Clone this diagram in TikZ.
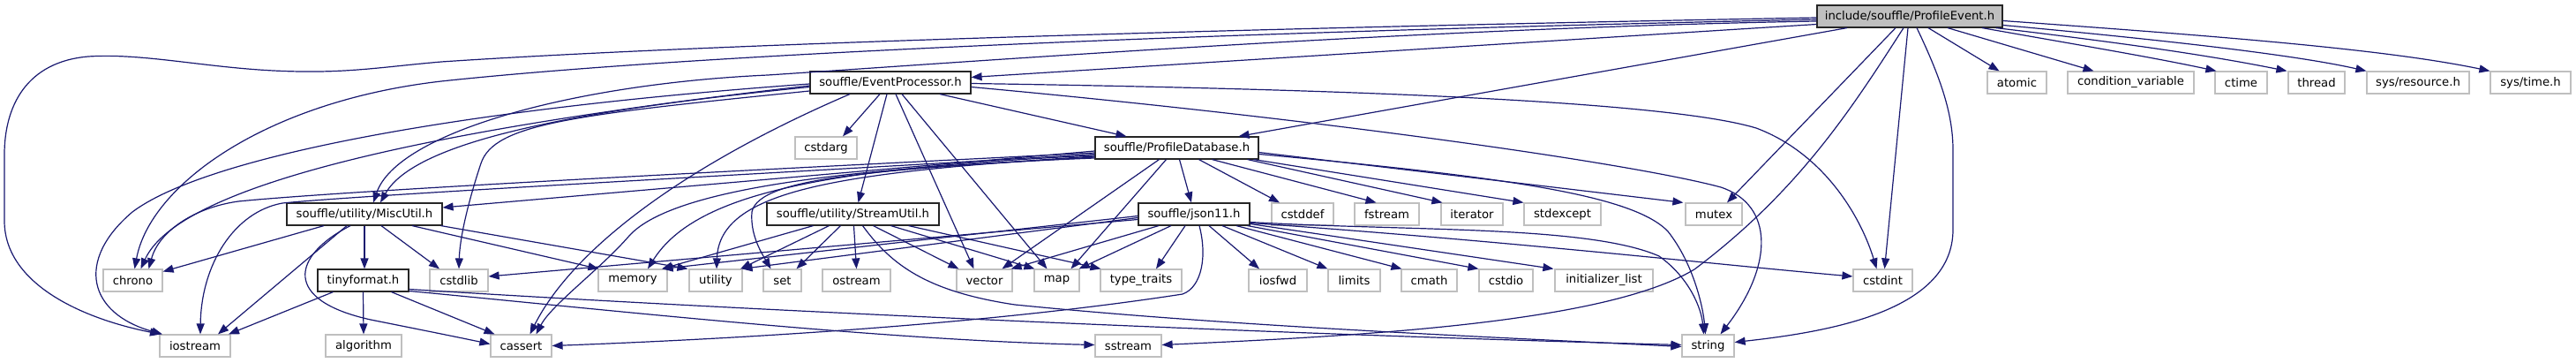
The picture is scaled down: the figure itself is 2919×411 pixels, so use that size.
\documentclass[tikz,border=0pt]{standalone}
\usepackage{fontspec}
\setmainfont{DejaVu Sans}
\usetikzlibrary{arrows.meta}
\definecolor{edgecol}{HTML}{191970}
\definecolor{boxgray}{HTML}{BFBFBF}
\begin{document}
\begin{tikzpicture}[x=1pt,y=-1pt,
  box/.style={draw, inner sep=0pt, minimum height=25pt, font=\fontsize{13.2}{15}\selectfont, anchor=center},
  sys/.style={box, draw=boxgray, line width=1.2pt, fill=white},
  proj/.style={box, draw=black!85, line width=1.15pt, fill=white},
  root/.style={box, draw=black!85, line width=1.15pt, fill=boxgray},
  e/.style={draw=edgecol, line width=1.2pt, -{Triangle[length=12pt,width=9pt]}},
]
\useasboundingbox (0,0) rectangle (2919,411);
% row 0
\node[root, minimum width=210pt] (PE) at (2164,18.5) {include/souffle/ProfileEvent.h};
% row 1
\node[proj, minimum width=182pt] (EP) at (1009,93.5) {souffle/EventProcessor.h};
\node[sys, minimum width=67pt] (atomic) at (2285.5,93.5) {atomic};
\node[sys, minimum width=143pt] (condvar) at (2414.5,93.5) {condition\_variable};
\node[sys, minimum width=59pt] (ctime) at (2539.5,93.5) {ctime};
\node[sys, minimum width=64pt] (thread) at (2625,93.5) {thread};
\node[sys, minimum width=116pt] (sysres) at (2740,93.5) {sys/resource.h};
\node[sys, minimum width=91pt] (systime) at (2867.5,93.5) {sys/time.h};
% row 2
\node[sys, minimum width=70pt] (cstdarg) at (936,167.5) {cstdarg};
\node[proj, minimum width=185pt] (PD) at (1333.5,167.5) {souffle/ProfileDatabase.h};
% row 3
\node[proj, minimum width=176pt] (MU) at (413,242.5) {souffle/utility/MiscUtil.h};
\node[proj, minimum width=195pt] (SU) at (966.5,242.5) {souffle/utility/StreamUtil.h};
\node[proj, minimum width=126pt] (json) at (1353,242.5) {souffle/json11.h};
\node[sys, minimum width=70pt] (cstddef) at (1476,242.5) {cstddef};
\node[sys, minimum width=73pt] (fstream) at (1571.5,242.5) {fstream};
\node[sys, minimum width=70pt] (iterator) at (1668,242.5) {iterator};
\node[sys, minimum width=87pt] (stdexcept) at (1770.5,242.5) {stdexcept};
\node[sys, minimum width=64pt] (mutex) at (1942,242.5) {mutex};
% row 4
\node[sys, minimum width=67pt] (chrono) at (150.5,317.5) {chrono};
\node[proj, minimum width=103pt] (tiny) at (411.5,317.5) {tinyformat.h};
\node[sys, minimum width=66pt] (cstdlib) at (520,317.5) {cstdlib};
\node[sys, minimum width=78pt] (memory) at (717,317.5) {memory};
\node[sys, minimum width=60pt] (utility) at (811,317.5) {utility};
\node[sys, minimum width=43pt] (set) at (886.5,317.5) {set};
\node[sys, minimum width=77pt] (ostream) at (970.5,317.5) {ostream};
\node[sys, minimum width=63pt] (vector) at (1115.5,317.5) {vector};
\node[sys, minimum width=51pt] (map) at (1197.5,317.5) {map};
\node[sys, minimum width=92pt] (typetraits) at (1293,317.5) {type\_traits};
\node[sys, minimum width=66pt] (iosfwd) at (1448,317.5) {iosfwd};
\node[sys, minimum width=59pt] (limits) at (1534.5,317.5) {limits};
\node[sys, minimum width=63pt] (cmath) at (1619.5,317.5) {cmath};
\node[sys, minimum width=61pt] (cstdio) at (1706.5,317.5) {cstdio};
\node[sys, minimum width=111pt] (initlist) at (1817.5,317.5) {initializer\_list};
\node[sys, minimum width=67pt] (cstdint) at (2133.5,317.5) {cstdint};
% row 5
\node[sys, minimum width=80pt] (iostream) at (221,391.5) {iostream};
\node[sys, minimum width=86pt] (algorithm) at (412,391.5) {algorithm};
\node[sys, minimum width=69pt] (cassert) at (590.5,391.5) {cassert};
\node[sys, minimum width=75pt] (sstream) at (1278.5,391.5) {sstream};
\node[sys, minimum width=59pt] (string) at (1935.5,391.5) {string};

% ---- ProfileEvent.h
\draw[e] ([yshift=-1.5pt]PE.west) .. controls (1400,32) and (800,50) .. (500,70) .. controls (430,76) and (390,84) .. (310,80) .. controls (230,76) and (160,60) .. (100,64) .. controls (30,70) and (5,120) .. (5,175) -- (5,250) .. controls (5,320) and (90,360) .. ([xshift=-39pt]iostream.north);
\draw[e] ([yshift=-3.5pt]PE.west) .. controls (1400,36) and (800,60) .. (500,92) .. controls (300,115) and (170,210) .. ([xshift=2pt]chrono.north);
\draw[e] ([yshift=-5.5pt]PE.west) .. controls (1600,32) and (1100,70) .. (870,85) .. controls (650,95) and (450,150) .. ([xshift=10pt]MU.north);
\draw[e] ([yshift=-9pt]PE.west) -- ([yshift=6pt]EP.east);
\draw[e] ([xshift=-71pt]PE.south) -- ([xshift=70pt]PD.north);
\draw[e] ([xshift=-16pt]PE.south) -- ([xshift=15pt]mutex.north);
\draw[e] ([xshift=-2pt]PE.south) -- ([xshift=2pt]cstdint.north);
\draw[e] ([xshift=8pt]PE.south) .. controls (2200,90) and (2213,130) .. (2213,170) -- (2213,260) .. controls (2213,350) and (2080,375) .. ([yshift=4pt]string.east);
\draw[e] ([xshift=-7pt]PE.south) .. controls (2100,120) and (2040,215) .. (1920,305) .. controls (1820,365) and (1550,380) .. ([yshift=1pt]sstream.east);
\draw[e] ([xshift=21pt]PE.south) -- ([xshift=-20pt]atomic.north);
\draw[e] ([xshift=43pt]PE.south) -- ([xshift=-42pt]condvar.north);
\draw[e] ([xshift=82pt]PE.south) .. controls (2350,50) and (2440,65) .. ([xshift=2pt]ctime.north west);
\draw[e] ([xshift=-8pt]PE.south east) .. controls (2400,48) and (2500,62) .. ([xshift=-1pt]thread.north west);
\draw[e] ([yshift=-10pt]PE.east) .. controls (2450,45) and (2600,62) .. (sysres.north west);
\draw[e] ([yshift=-5pt]PE.east) .. controls (2500,40) and (2700,55) .. (systime.north west);

% ---- EventProcessor.h
\draw[e] ([yshift=-5pt]EP.west) .. controls (650,125) and (470,160) .. ([xshift=18pt]MU.north);
\draw[e] ([yshift=-1.5pt]EP.west) .. controls (500,125) and (230,180) .. (150,240) .. controls (85,295) and (100,355) .. ([xshift=-37pt]iostream.north);
\draw[e] ([yshift=-3.5pt]EP.west) .. controls (450,150) and (200,215) .. ([xshift=9pt]chrono.north);
\draw[e] ([yshift=-9.5pt]EP.west) .. controls (650,130) and (560,140) .. (545,185) .. controls (530,230) and (521,270) .. (cstdlib.north);
\draw[e] ([xshift=-46pt]EP.south) .. controls (780,185) and (650,280) .. ([xshift=10pt]cassert.north);
\draw[e] ([xshift=-12pt]EP.south) -- ([xshift=19pt]cstdarg.north);
\draw[e] ([xshift=-4pt]EP.south) -- ([xshift=6pt]SU.north);
\draw[e] ([xshift=6pt]EP.south) -- ([xshift=-12pt]vector.north);
\draw[e] ([xshift=13pt]EP.south) -- ([xshift=-11pt]map.north);
\draw[e] ([xshift=56pt]EP.south) -- ([xshift=-57pt]PD.north);
\draw[e] ([yshift=-1pt]EP.east) .. controls (1600,102) and (1900,118) .. (1990,145) .. controls (2070,175) and (2110,250) .. ([xshift=-7pt]cstdint.north);
\draw[e] ([yshift=-5pt]EP.east) .. controls (1500,135) and (1850,185) .. (1950,212) .. controls (2010,232) and (2010,300) .. ([xshift=14pt]string.north);

% ---- ProfileDatabase.h
\draw[e] ([yshift=-3.5pt]PD.west) -- ([yshift=7.5pt]MU.east);
\draw[e] ([yshift=-5.5pt]PD.west) .. controls (900,190) and (400,215) .. (270,228) .. controls (220,235) and (180,262) .. ([xshift=18pt]chrono.north);
\draw[e] ([yshift=-7pt]PD.west) .. controls (900,195) and (420,220) .. (320,230) .. controls (265,240) and (228,300) .. ([xshift=6pt]iostream.north);
\draw[e] ([yshift=-8.5pt]PD.west) .. controls (950,190) and (790,215) .. ([xshift=17pt]memory.north);
\draw[e] ([yshift=-9.5pt]PD.west) .. controls (950,195) and (815,215) .. ([xshift=1pt]utility.north);
\draw[e] ([yshift=-10.5pt]PD.west) .. controls (1000,192) and (860,200) .. (852,240) .. controls (850,265) and (862,285) .. ([xshift=-13pt]set.north);
\draw[e] ([yshift=-11.5pt]PD.west) .. controls (950,190) and (760,215) .. (713,267) .. controls (680,305) and (625,345) .. ([xshift=17pt]cassert.north);
\draw[e] ([xshift=-20pt]PD.south) -- ([xshift=20pt]vector.north);
\draw[e] ([xshift=-12pt]PD.south) -- ([xshift=16pt]map.north);
\draw[e] ([xshift=3pt]PD.south) -- ([xshift=-3pt]json.north);
\draw[e] ([xshift=25pt]PD.south) -- ([xshift=-26pt]cstddef.north);
\draw[e] ([xshift=40pt]PD.south) -- ([xshift=-12pt]fstream.north);
\draw[e] ([xshift=-13pt]PD.south east) -- ([xshift=2pt]iterator.north west);
\draw[e] ([xshift=-6pt]PD.south east) -- (stdexcept.north west);
\draw[e] ([yshift=-5pt]PD.east) -- ([xshift=-2pt]mutex.north west);
\draw[e] ([yshift=-7pt]PD.east) .. controls (1700,200) and (1850,220) .. (1890,262) .. controls (1920,300) and (1930,350) .. ([xshift=-3pt]string.north);

% ---- MiscUtil.h
\draw[e] ([xshift=-46pt]MU.south) -- ([yshift=10pt]chrono.east);
\draw[e] ([xshift=-20pt]MU.south) -- ([xshift=26pt]iostream.north);
\draw[e] ([xshift=-16pt]MU.south) .. controls (330,290) and (320,340) .. (420,362) .. controls (470,372) and (520,382) .. ([yshift=2pt]cassert.west);
\draw[e] (MU.south) -- ([xshift=1.5pt]tiny.north);
\draw[e] ([xshift=19pt]MU.south) -- ([xshift=-22pt]cstdlib.north);
\draw[e] ([xshift=54pt]MU.south) -- ([xshift=1pt]memory.north west);
\draw[e] ([xshift=-2pt]MU.south east) -- ([xshift=-1pt]utility.north west);

% ---- tinyformat.h
\draw[e] ([xshift=-34pt]tiny.south) -- ([xshift=38pt]iostream.north);
\draw[e] (tiny.south) -- (algorithm.north);
\draw[e] ([xshift=32pt]tiny.south) -- ([xshift=-30pt]cassert.north);
\draw[e] ([yshift=-12pt]tiny.east) .. controls (700,352) and (1000,385) .. ([yshift=1pt]sstream.west);
\draw[e] ([yshift=-10pt]tiny.east) .. controls (900,355) and (1500,380) .. ([yshift=1pt]string.west);

% ---- StreamUtil.h
\draw[e] ([xshift=-45pt]SU.south) -- ([xshift=33pt]memory.north);
\draw[e] ([xshift=-27pt]SU.south) -- ([xshift=28pt]utility.north);
\draw[e] ([xshift=-14pt]SU.south) -- ([xshift=16pt]set.north);
\draw[e] ([xshift=1pt]SU.south) -- (ostream.north);
\draw[e] ([xshift=23pt]SU.south) -- ([xshift=3pt]vector.north west);
\draw[e] ([xshift=43pt]SU.south) -- ([xshift=1pt]map.north west);
\draw[e] ([xshift=63pt]SU.south) -- ([xshift=1pt]typetraits.north west);
\draw[e] ([xshift=11pt]SU.south) .. controls (1010,300) and (1050,330) .. (1150,345) .. controls (1400,370) and (1700,382) .. ([yshift=-1pt]string.west);

% ---- json11.h
\draw[e] ([yshift=-2pt]json.west) -- ([xshift=-6pt]memory.north east);
\draw[e] ([yshift=-4pt]json.west) -- ([xshift=-1pt]utility.north east);
\draw[e] ([yshift=-6pt]json.west) -- ([yshift=4.5pt]cstdlib.east);
\draw[e] ([xshift=-40pt]json.south) -- ([xshift=-2pt]vector.north east);
\draw[e] ([xshift=-26pt]json.south) -- ([xshift=-1pt]map.north east);
\draw[e] ([xshift=-10pt]json.south) -- ([xshift=17pt]typetraits.north);
\draw[e] ([xshift=6pt]json.south) .. controls (1368,290) and (1362,325) .. (1340,333) .. controls (1100,370) and (800,385) .. (cassert.east);
\draw[e] ([xshift=17pt]json.south) -- ([xshift=-21pt]iosfwd.north);
\draw[e] ([xshift=32pt]json.south) -- (limits.north west);
\draw[e] ([xshift=48pt]json.south) -- ([xshift=1pt]cmath.north west);
\draw[e] ([xshift=-3pt]json.south east) -- (cstdio.north west);
\draw[e] ([yshift=-11pt]json.east) -- ([xshift=-1pt]initlist.north west);
\draw[e] ([yshift=-10pt]json.east) .. controls (1700,272) and (1950,300) .. ([yshift=4.5pt]cstdint.west);
\draw[e] ([yshift=-9pt]json.east) .. controls (1600,262) and (1800,255) .. (1880,290) .. controls (1915,315) and (1928,350) .. ([xshift=-5pt]string.north);
\end{tikzpicture}
\end{document}
